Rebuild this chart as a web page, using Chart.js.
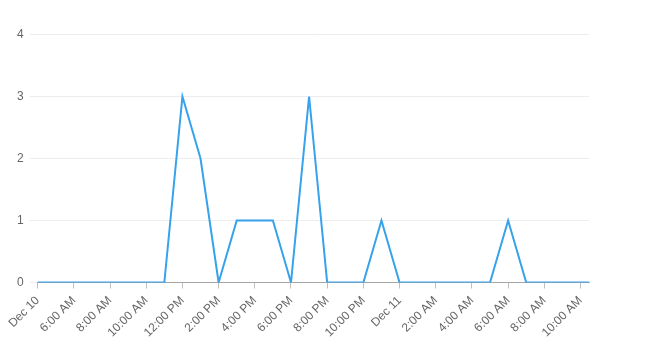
<!DOCTYPE html>
<html>
<head>
<meta charset="utf-8">
<script src="https://cdn.jsdelivr.net/npm/chart.js@4/dist/chart.umd.min.js"></script>
<style>
  html, body { margin: 0; padding: 0; background: #fff; }
  #wrap { width: 651px; height: 348px; }
</style>
</head>
<body>
<div id="wrap"><canvas id="myChart"></canvas></div>
<script>
// hours counted from Dec 10 00:00
const hours = [4, 5, 6, 7, 8, 9, 10, 11, 12, 13, 14, 15, 16, 17, 18, 19, 20, 21, 22, 23,
  24, 25, 26, 27, 28, 29, 30, 31, 32, 33, 34, 34.47];
const counts = [0, 0, 0, 0, 0, 0, 0, 0, 3, 2, 0, 1, 1, 1, 0, 3, 0, 0, 0, 1,
  0, 0, 0, 0, 0, 0, 1, 0, 0, 0, 0, 0];

// one label every 2 hours, starting at the first hour
const tickLabels = ["Dec 10", "6:00 AM", "8:00 AM", "10:00 AM", "12:00 PM", "2:00 PM",
  "4:00 PM", "6:00 PM", "8:00 PM", "10:00 PM", "Dec 11", "2:00 AM", "4:00 AM",
  "6:00 AM", "8:00 AM", "10:00 AM"];
const yTicks = [0, 1, 2, 3, 4];

Chart.defaults.font.family = "'Helvetica Neue', Helvetica, Arial, 'Liberation Sans', sans-serif";
Chart.defaults.font.size = 12;
Chart.defaults.color = "#666";

var ctx = document.getElementById("myChart").getContext("2d");
var chart = new Chart(ctx, {
  type: "line",
  data: {
    datasets: [
      {
        label: "Count",
        data: hours.map((h, i) => ({ x: h, y: counts[i] })),
        borderColor: "rgb(54, 162, 235)",
        backgroundColor: "rgba(54, 162, 235, 0.2)",
        borderWidth: 2,
        pointRadius: 0,
        tension: 0,
        fill: false,
      },
    ],
  },
  options: {
    responsive: true,
    maintainAspectRatio: false,
    animation: false,
    layout: {
      padding: { top: 34.5, right: 62, left: 11, bottom: 3 },
    },
    plugins: {
      legend: { display: false },
      tooltip: { enabled: false },
    },
    scales: {
      x: {
        type: "linear",
        min: hours[0],
        max: hours[hours.length - 1],
        grid: {
          drawOnChartArea: false,
          drawTicks: true,
          tickLength: 6,
          color: "rgba(0,0,0,0.25)",
        },
        border: { display: true, color: "rgba(0,0,0,0.3)" },
        ticks: {
          stepSize: 2,
          includeBounds: false,
          autoSkip: false,
          minRotation: 45,
          maxRotation: 45,
          padding: 5,
          callback: (value) => tickLabels[(value - hours[0]) / 2],
        },
      },
      y: {
        min: yTicks[0],
        max: yTicks[yTicks.length - 1],
        grid: {
          color: "rgba(0,0,0,0.07)",
          tickLength: 8,
        },
        border: { display: false },
        ticks: {
          stepSize: 1,
          padding: 6,
        },
      },
    },
  },
});
</script>
</body>
</html>
